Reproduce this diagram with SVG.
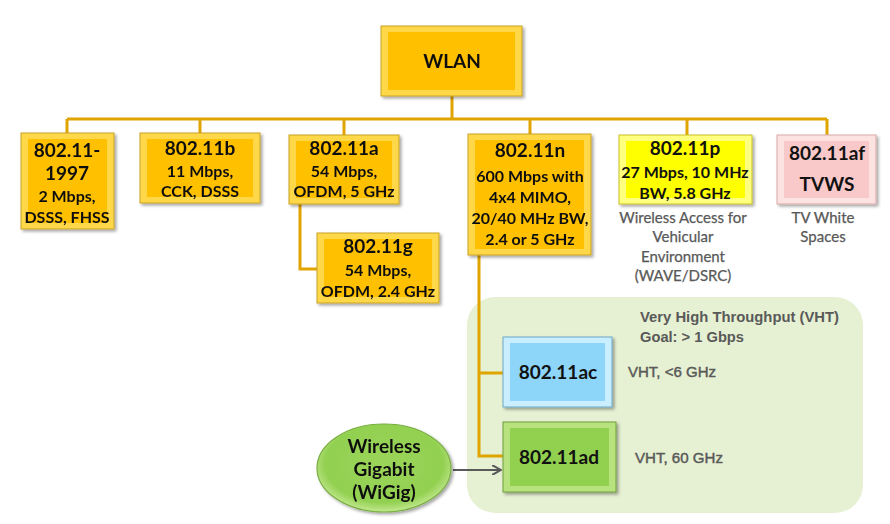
<svg xmlns="http://www.w3.org/2000/svg" width="890" height="524" viewBox="0 0 890 524">
<style>
.t{font-family:"Lato","Liberation Sans",sans-serif;font-weight:bold;fill:#111;text-anchor:middle}
.h{font-size:19px}
.b{font-size:16px}
.cap{font-family:"Lato","Liberation Sans",sans-serif;font-size:15px;fill:#595959;text-anchor:middle;stroke:#595959;stroke-width:0.25}
.nar{font-family:"Liberation Sans Narrow","Liberation Sans",sans-serif;fill:#595959;font-size:15px}
.med{stroke:#595959;stroke-width:0.45}
.conn{fill:none;stroke:#E0A400;stroke-width:3}
.gold-o{fill:#FFD84A;stroke:#C9A227;stroke-width:1}
.gold-i{fill:#FFC000}
.yel-o{fill:#FFFF80;stroke:#C9C127;stroke-width:1}
.yel-i{fill:#FFFF00}
.pink-o{fill:#FDE2E2;stroke:#D9A9A9;stroke-width:1}
.pink-i{fill:#F9C8C8}
.blue-o{fill:#C8EEFF;stroke:#6FA8C8;stroke-width:1}
.blue-i{fill:#8DD6F9}
.grn-o{fill:#B8E27E;stroke:#6E9E3A;stroke-width:1}
.grn-i{fill:#92D050}
</style>
<defs>
<filter id="sh" x="-10%" y="-10%" width="130%" height="130%">
<feDropShadow dx="2" dy="2" stdDeviation="1.5" flood-color="#000" flood-opacity="0.35"/>
</filter>
<radialGradient id="eg" cx="50%" cy="45%" r="55%">
<stop offset="0" stop-color="#9BD55A"/>
<stop offset="0.8" stop-color="#92D050"/>
<stop offset="1" stop-color="#C2E88F"/>
</radialGradient>
<marker id="ar" markerWidth="10" markerHeight="10" refX="8" refY="5" orient="auto" markerUnits="userSpaceOnUse">
<path d="M0,0 L9,5 L0,10" fill="none" stroke="#595959" stroke-width="2"/>
</marker>
</defs>

<rect id="vht-region" x="467" y="297" width="396" height="216" rx="28" fill="#E6F0D2"/>

<g id="connectors">
<path class="conn" d="M452,96 V119 M67,119 H827 M67,119 V133 M200,119 V133 M344,119 V135 M530,119 V134 M687,119 V135 M827,119 V135"/>
<path class="conn" d="M300,204 V269 H317"/>
<path class="conn" d="M479,255 V456 H503 M479,373 H503"/>
<path d="M453,470 H500" stroke="#595959" stroke-width="2" fill="none" marker-end="url(#ar)"/>
</g>

<g id="wlan" filter="url(#sh)">
<rect class="gold-o" x="381" y="26" width="141" height="70"/>
<rect class="gold-i" x="388" y="32" width="127" height="58"/>
<text class="t h" x="452" y="68">WLAN</text>
</g>

<g id="n80211-1997" filter="url(#sh)">
<rect class="gold-o" x="21" y="133" width="93" height="96"/>
<rect class="gold-i" x="28" y="139" width="79" height="84"/>
<text class="t h" x="67" y="157">802.11-</text>
<text class="t h" x="67" y="180">1997</text>
<text class="t b" x="67" y="202">2 Mbps,</text>
<text class="t b" x="67" y="223">DSSS, FHSS</text>
</g>

<g id="n80211b" filter="url(#sh)">
<rect class="gold-o" x="140" y="133" width="120" height="70"/>
<rect class="gold-i" x="147" y="139" width="106" height="58"/>
<text class="t h" x="200" y="155">802.11b</text>
<text class="t b" x="200" y="177">11 Mbps,</text>
<text class="t b" x="200" y="197">CCK, DSSS</text>
</g>

<g id="n80211a" filter="url(#sh)">
<rect class="gold-o" x="289" y="135" width="110" height="69"/>
<rect class="gold-i" x="296" y="141" width="96" height="57"/>
<text class="t h" x="344" y="155">802.11a</text>
<text class="t b" x="344" y="177">54 Mbps,</text>
<text class="t b" x="344" y="197">OFDM, 5 GHz</text>
</g>

<g id="n80211g" filter="url(#sh)">
<rect class="gold-o" x="317" y="233" width="122" height="70"/>
<rect class="gold-i" x="324" y="239" width="108" height="58"/>
<text class="t h" x="378" y="253">802.11g</text>
<text class="t b" x="378" y="276">54 Mbps,</text>
<text class="t b" x="378" y="297">OFDM, 2.4 GHz</text>
</g>

<g id="n80211n" filter="url(#sh)">
<rect class="gold-o" x="468" y="134" width="123" height="121"/>
<rect class="gold-i" x="475" y="140" width="109" height="109"/>
<text class="t h" x="530" y="157">802.11n</text>
<text class="t b" x="530" y="182">600 Mbps with</text>
<text class="t b" x="530" y="203">4x4 MIMO,</text>
<text class="t b" x="530" y="224">20/40 MHz BW,</text>
<text class="t b" x="530" y="245">2.4 or 5 GHz</text>
</g>

<g id="n80211p">
<g filter="url(#sh)">
<rect class="yel-o" x="619" y="135" width="133" height="69"/>
<rect class="yel-i" x="626" y="141" width="119" height="57"/>
</g>
<text class="t h" x="685" y="155">802.11p</text>
<text class="t b" x="685" y="178">27 Mbps, 10 MHz</text>
<text class="t b" x="685" y="199">BW, 5.8 GHz</text>
<text class="cap" x="683" y="223">Wireless Access for</text>
<text class="cap" x="683" y="242">Vehicular</text>
<text class="cap" x="683" y="262">Environment</text>
<text class="cap" x="683" y="281">(WAVE/DSRC)</text>
</g>

<g id="n80211af">
<g filter="url(#sh)">
<rect class="pink-o" x="777" y="135" width="99" height="69"/>
<rect class="pink-i" x="784" y="141" width="85" height="57"/>
</g>
<text class="t h" x="827" y="160">802.11af</text>
<text class="t h" x="827" y="191">TVWS</text>
<text class="cap" x="823" y="223">TV White</text>
<text class="cap" x="823" y="242">Spaces</text>
</g>

<g id="vht-label">
<text class="nar" font-weight="bold" x="640" y="322" textLength="199" lengthAdjust="spacingAndGlyphs">Very High Throughput (VHT)</text>
<text class="nar" font-weight="bold" x="640" y="342" textLength="104" lengthAdjust="spacingAndGlyphs">Goal: &gt; 1 Gbps</text>
</g>

<g id="n80211ac">
<g filter="url(#sh)">
<rect class="blue-o" x="503" y="337" width="109" height="70"/>
<rect class="blue-i" x="510" y="343" width="95" height="58"/>
</g>
<text class="t h" x="558" y="379">802.11ac</text>
<text class="nar med" x="628" y="377" textLength="88" lengthAdjust="spacingAndGlyphs">VHT, &lt;6 GHz</text>
</g>

<g id="n80211ad">
<g filter="url(#sh)">
<rect class="grn-o" x="503" y="422" width="113" height="70"/>
<rect class="grn-i" x="510" y="428" width="99" height="58"/>
</g>
<text class="t h" x="559" y="464">802.11ad</text>
<text class="nar med" x="635" y="463" textLength="88" lengthAdjust="spacingAndGlyphs">VHT, 60 GHz</text>
</g>

<g id="wigig" filter="url(#sh)">
<ellipse cx="384" cy="468" rx="67" ry="44" fill="url(#eg)" stroke="#79AE42" stroke-width="1.2"/>
<text class="t h" x="384" y="453">Wireless</text>
<text class="t h" x="384" y="476">Gigabit</text>
<text class="t h" x="384" y="499">(WiGig)</text>
</g>
</svg>
